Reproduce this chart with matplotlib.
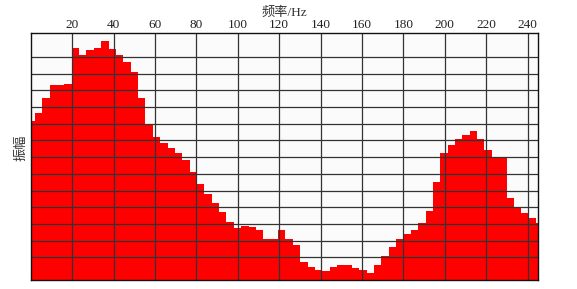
import matplotlib
matplotlib.use("Agg")
import matplotlib.pyplot as plt
import numpy as np

# bin layout (Hz) and amplitudes (grid units)
bin_start = 2.0
bin_width = 3.56
amplitude = [
    9.54, 10.02, 10.88, 11.68, 11.68, 11.74, 13.93, 13.51, 13.77, 13.93,
    14.33, 13.87, 13.47, 13.04, 12.47, 10.88, 9.34, 8.58, 8.19, 7.89,
    7.62, 7.19, 6.49, 5.75, 5.15, 4.61, 4.07, 3.49, 3.10, 3.25,
    3.16, 2.99, 2.46, 2.43, 2.99, 2.46, 2.07, 1.08, 0.80, 0.60,
    0.54, 0.76, 0.90, 0.90, 0.70, 0.60, 0.44, 0.87, 1.44, 1.99,
    2.44, 2.75, 2.99, 3.40, 4.13, 5.90, 7.62, 8.08, 8.43, 8.68,
    8.94, 8.43, 7.81, 7.40, 7.40, 4.89, 4.29, 4.04, 3.74, 3.43,
]
xticks = [20, 40, 60, 80, 100, 120, 140, 160, 180, 200, 220, 240]
grid_rows = 13


def main():
    plt.rcParams['font.family'] = ['Liberation Serif', 'Noto Sans CJK SC']

    fig = plt.figure(figsize=(5.77, 2.89), dpi=100)
    ax = fig.add_axes([0.0532, 0.0311, 0.8792, 0.8547])

    left = bin_start + bin_width * np.arange(-1, len(amplitude) - 1)
    ax.bar(left, amplitude, width=bin_width, align='edge',
           color='#ff0000', linewidth=0, zorder=1)

    ax.set_xlim(0, 245)
    ax.set_ylim(0, 14.8)
    ax.set_xticks(xticks)
    ax.set_yticks(1.36 + np.arange(grid_rows))
    ax.set_yticklabels([])
    ax.xaxis.tick_top()
    ax.tick_params(axis='both', length=0, labelsize=9.5, pad=1.5, colors='#222222')
    ax.grid(True, color='#333333', linewidth=0.9, zorder=2)
    ax.set_axisbelow(False)
    ax.set_facecolor('#fbfbfb')
    for s in ax.spines.values():
        s.set_color('#111111')
        s.set_linewidth(1.0)
        s.set_zorder(3)

    fig.text(0.492, 0.955, '频率/Hz', ha='center', va='center',
             fontsize=9.5, color='#333333')
    fig.text(0.036, 0.49, '振幅', ha='center', va='center', rotation=90,
             fontsize=9.5, color='#333333', family=['Noto Sans CJK SC'])

    plt.savefig('out.png', dpi=100)


if __name__ == "__main__":
    main()
